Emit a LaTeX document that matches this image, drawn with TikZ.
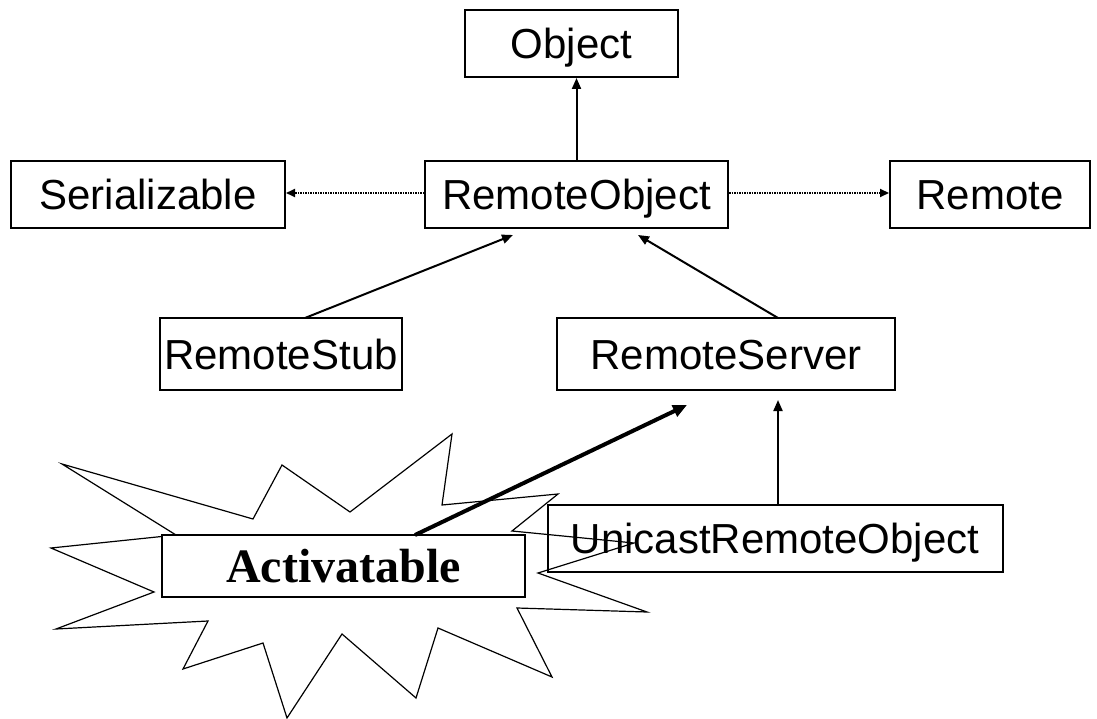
\documentclass[tikz,border=0pt]{standalone}
\usepackage{fontspec}
\setmainfont{Liberation Sans}
\newfontfamily\serifbold{Liberation Serif}
\usetikzlibrary{arrows.meta}
\begin{document}
\begin{tikzpicture}[x=1pt,y=-1pt,
  cls/.style={draw, line width=2pt, fill=white, inner sep=0pt, text height=30pt, text depth=0pt,
    font=\fontsize{42}{42}\selectfont},
  inh/.style={-{Triangle[length=11pt,width=9pt]}, line width=2pt},
  thick arrow/.style={-{Triangle[length=14pt,width=12pt]}, line width=4pt},
  real/.style={-{Triangle[length=9pt,width=8pt]}, line width=2pt, dash pattern=on 1.5pt off 1pt},
  burst/.style={draw, line width=1.2pt, line join=miter}
]
\useasboundingbox (0,0) rectangle (1097,719);
\node[cls, minimum width=213pt, minimum height=67pt] (obj) at (571.5,43.5) {Object};
\node[cls, minimum width=274pt, minimum height=67pt] (ser) at (148,195) {Serializable};
\node[cls, minimum width=303pt, minimum height=67pt] (ro) at (576.5,195) {RemoteObject};
\node[cls, minimum width=200pt, minimum height=67pt] (rem) at (990,195) {Remote};
\node[cls, minimum width=242pt, minimum height=72pt] (stub) at (281,354) {RemoteStub};
\node[cls, minimum width=338pt, minimum height=72pt] (srv) at (726,354) {RemoteServer};
\node[cls, minimum width=455pt, minimum height=67pt] (uni) at (775,538.5) {UnicastRemoteObject};
\draw[burst] (452,434) -- (442,505) -- (558,494) -- (512,531) -- (634,543) -- (538,573)
  -- (647,612) -- (517,608) -- (552,677) -- (438,628) -- (416,698) -- (342,634)
  -- (287,718) -- (263,643) -- (183,669) -- (208,621) -- (56,629) -- (154,592)
  -- (51,548) -- (176,535) -- (62,464) -- (253,519) -- (282,465) -- (350,512) -- cycle;
\node[draw, line width=1.2pt, fill=white, inner sep=0pt, minimum width=363pt, minimum height=62pt,
  text height=32pt, text depth=0pt,
  font=\serifbold\bfseries\fontsize{48}{48}\selectfont] (act) at (343.5,566) {Activatable};
\coordinate (actT) at (415,535);
\draw[inh] (ro.north -| obj.south) ++(5,0) coordinate (roT) -- (roT |- obj.south);
\draw[real] (ro.west) ++(0,-2) coordinate (roW) -- (roW -| ser.east);
\draw[real] (ro.east) ++(0,-2) coordinate (roE) -- (roE -| rem.west);
\coordinate (stubT) at (305,318);
\coordinate (roB1) at (513,235);
\draw[inh] (stubT) -- (roB1);
\coordinate (srvT) at (778,318);
\coordinate (roB2) at (638,235);
\draw[inh] (srvT) -- (roB2);
\coordinate (srvB1) at (687,405);
\draw[thick arrow] (actT) -- (srvB1);
\coordinate (uniT) at (778,505);
\coordinate (srvB2) at (778,400);
\draw[inh] (uniT) -- (srvB2);
\end{tikzpicture}
\end{document}
